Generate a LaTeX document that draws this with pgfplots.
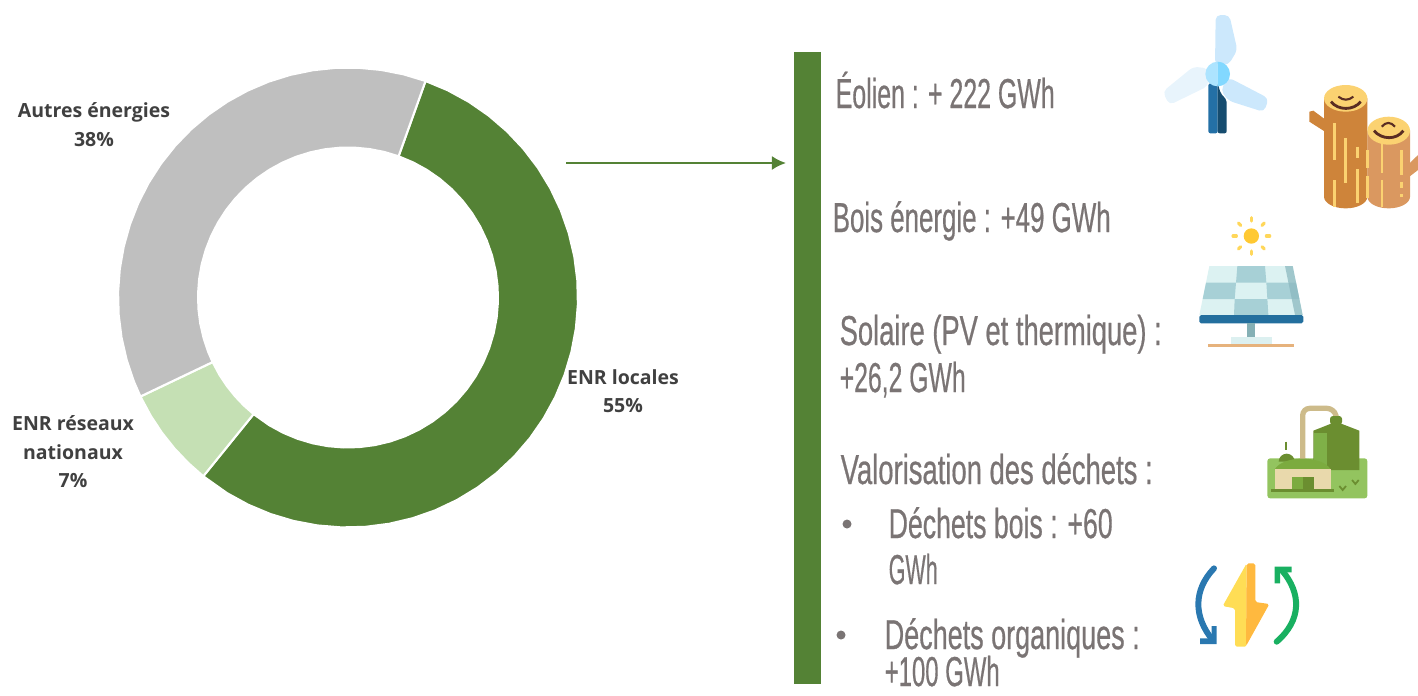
\documentclass[border=0pt]{standalone}
\usepackage{pgfplots}
\usepackage{fontspec}
\usepackage{graphicx}
\usetikzlibrary{arrows.meta,calc}
\setmainfont{Liberation Sans}[FakeBold=0.7]
\newfontfamily\rtf{Liberation Sans}[FakeBold=0.7]
\newfontfamily\lab{Open Sans}[BoldFont={Open Sans Bold}]
\pgfplotsset{compat=1.18}
\definecolor{gd}{HTML}{548235}
\definecolor{gl}{HTML}{C5E0B4}
\definecolor{gy}{HTML}{BFBFBF}
\definecolor{tx}{HTML}{7A7474}
\definecolor{lb}{HTML}{404040}
\newcommand{\rt}[4]{\node[anchor=base west,inner sep=0pt,text=tx] at (#1,#2) {\rtf\fontsize{11.9}{14}\selectfont\resizebox{#3mm}{\height}{#4}};}
\newcommand{\lt}[3]{\node[anchor=base,inner sep=0pt,text=lb] at (#1,#2) {\lab\bfseries\fontsize{5.55}{6.5}\selectfont #3};}
\begin{document}
\begin{tikzpicture}
\useasboundingbox (0,0) rectangle (14.18cm,-6.95cm);
\begin{axis}[at={(0,0)},anchor=north west,scale only axis,width=14.18cm,height=6.95cm,
  xmin=-348,xmax=1070,ymin=-397.5,ymax=297.5,hide axis,clip=false]
% ENR locales 55 %
\addplot[fill=gd,draw=white,line width=0.6pt,data cs=polar] coordinates {
(70.3,230)(64.3,230)(58.3,230)(52.3,230)(46.3,230)(40.3,230)(34.3,230)(28.3,230)(22.3,230)(16.3,230)(10.3,230)(4.3,230)(-1.7,230)(-7.7,230)(-13.7,230)(-19.7,230)(-25.7,230)(-31.7,230)(-37.7,230)(-43.7,230)(-49.7,230)(-55.7,230)(-61.7,230)(-67.7,230)(-73.7,230)(-79.7,230)(-85.7,230)(-91.7,230)(-97.7,230)(-103.7,230)(-109.7,230)(-115.7,230)(-121.7,230)(-129,230)
(-129,150)(-121.7,150)(-115.7,150)(-109.7,150)(-103.7,150)(-97.7,150)(-91.7,150)(-85.7,150)(-79.7,150)(-73.7,150)(-67.7,150)(-61.7,150)(-55.7,150)(-49.7,150)(-43.7,150)(-37.7,150)(-31.7,150)(-25.7,150)(-19.7,150)(-13.7,150)(-7.7,150)(-1.7,150)(4.3,150)(10.3,150)(16.3,150)(22.3,150)(28.3,150)(34.3,150)(40.3,150)(46.3,150)(52.3,150)(58.3,150)(64.3,150)(70.3,150)} -- cycle;
% ENR reseaux nationaux 7 %
\addplot[fill=gl,draw=white,line width=0.6pt,data cs=polar] coordinates {
(-129,230)(-134,230)(-139,230)(-144,230)(-149,230)(-154.5,230)
(-154.5,150)(-149,150)(-144,150)(-139,150)(-134,150)(-129,150)} -- cycle;
% Autres energies 38 %
\addplot[fill=gy,draw=white,line width=0.6pt,data cs=polar] coordinates {
(-154.5,230)(-158.6,230)(-164.3,230)(-170,230)(-175.7,230)(-181.4,230)(-187.1,230)(-192.8,230)(-198.5,230)(-204.2,230)(-209.9,230)(-215.6,230)(-221.3,230)(-227,230)(-232.7,230)(-238.4,230)(-244.1,230)(-249.8,230)(-255.5,230)(-261.2,230)(-266.9,230)(-272.6,230)(-278.3,230)(-284,230)(-289.7,230)
(-289.7,150)(-284,150)(-278.3,150)(-272.6,150)(-266.9,150)(-261.2,150)(-255.5,150)(-249.8,150)(-244.1,150)(-238.4,150)(-232.7,150)(-227,150)(-221.3,150)(-215.6,150)(-209.9,150)(-204.2,150)(-198.5,150)(-192.8,150)(-187.1,150)(-181.4,150)(-175.7,150)(-170,150)(-164.3,150)(-158.6,150)(-154.5,150)} -- cycle;
\end{axis}
\begin{scope}[x=0.1mm,y=-0.1mm]
\lt{94}{117}{Autres énergies}
\lt{94}{146}{38\%}
\lt{623}{384}{ENR locales}
\lt{623}{412}{55\%}
\lt{73}{430}{ENR réseaux}
\lt{73}{459}{nationaux}
\lt{73}{487}{7\%}
\fill[gd] (794,52) rectangle (821,684);
\draw[gd,line width=0.65pt,-{Latex[length=4pt,width=4pt]}] (566,163) -- (786,163);
\rt{835}{108}{21.9}{Éolien : + 222 GWh}
\rt{832}{232}{27.8}{Bois énergie : +49 GWh}
\rt{839}{345}{32.2}{Solaire (PV et thermique) :}
\rt{839}{392}{12.6}{+26,2 GWh}
\rt{840}{484}{31.2}{Valorisation des déchets :}
\rt{888}{538}{22.4}{Déchets bois : +60}
\rt{888}{584}{4.9}{GWh}
\rt{884}{649}{25.5}{Déchets organiques :}
\rt{884}{686}{11.5}{+100 GWh}
\fill[tx] (847,524) circle (4.5);
\fill[tx] (841,635) circle (4.5);
\end{scope}
% icons : zoom-1 coordinates
\begin{scope}[shift={(115mm,0mm)},x=0.033333mm,y=-0.033333mm]
% turbine
\fill[rounded corners=1.4pt,fill={rgb,255:red,232;green,244;blue,252}] (175,205)--(130,200)--(38,275)--(58,315)--(175,258)--cycle;
\fill[rounded corners=1.4pt,fill={rgb,255:red,204;green,232;blue,252}] (195,195)--(197,45)--(238,45)--(262,150)--(235,195)--cycle;
\fill[rounded corners=1.4pt,fill={rgb,255:red,204;green,232;blue,252}] (235,232)--(356,295)--(342,336)--(235,302)--(212,270)--cycle;
\fill[rounded corners=0.6pt,fill={rgb,255:red,36;green,112;blue,166}] (175,250)--(203,250)--(203,400)--(175,400)--cycle;
\fill[rounded corners=0.6pt,fill={rgb,255:red,22;green,76;blue,111}] (203,250)--(212,280)--(230,300)--(230,400)--(203,400)--cycle;
\fill[fill={rgb,255:red,173;green,228;blue,255}] (203,185) arc (270:90:37) -- cycle;
\fill[fill={rgb,255:red,130;green,216;blue,255}] (203,185) arc (-90:90:37) -- cycle;
% logs
\fill[fill={rgb,255:red,206;green,132;blue,58}] (478,335)--(490,332)--(525,358)--(525,395)--(478,365)--cycle;
\fill[fill={rgb,255:red,218;green,152;blue,96}] (804,465)--(804,510)--(778,530)--(778,490)--cycle;
\fill[fill={rgb,255:red,218;green,152;blue,96}] (652,392)--(652,590) arc (180:0:64 and 35)--(780,392)--cycle;
\fill[fill={rgb,255:red,206;green,132;blue,58}] (522,295)--(522,590) arc (180:0:65 and 35)--(652,295)--cycle;
\fill[fill={rgb,255:red,251;green,210;blue,113}] (587,295) ellipse (65 and 40);
\fill[fill={rgb,255:red,251;green,210;blue,113}] (716,392) ellipse (64 and 42);
\draw[line width=0.8pt,draw={rgb,255:red,90;green,45;blue,35}] (543,305) .. controls (565,332) and (610,332) .. (632,305);
\draw[line width=0.6pt,draw={rgb,255:red,90;green,45;blue,35}] (565,290) .. controls (580,302) and (595,302) .. (610,290);
\draw[line width=0.8pt,draw={rgb,255:red,90;green,45;blue,35}] (672,392) .. controls (695,420) and (740,420) .. (760,392);
\draw[line width=0.6pt,draw={rgb,255:red,90;green,45;blue,35}] (695,380) .. controls (708,365) and (722,365) .. (735,380);
\foreach \x/\a/\b in {553/370/480,553/540/620,587/415/550,622/440/475,622/508/610,652/450/505,652/528/595,696/430/520,696/540/622,755/450/525,755/545/565,755/582/590}
  \draw[line width=0.75pt,draw={rgb,255:red,251;green,210;blue,113}] (\x,\a)--(\x,\b);
% solar
\fill[fill={rgb,255:red,255;green,201;blue,51}] (304,708) circle (23);
\foreach \a in {0,45,...,315}
  \draw[line width=0.9pt,line cap=round,draw={rgb,255:red,255;green,215;blue,90}] ($(304,708)+(\a:45)$)--($(304,708)+(\a:55)$);
\fill[fill={rgb,255:red,220;green,242;blue,242}] (178,798)--(428,798)--(458,945)--(148,945)--cycle;
\fill[fill={rgb,255:red,167;green,208;blue,214}] (262,798)--(345,798)--(349,848)--(258,848)--cycle;
\fill[fill={rgb,255:red,167;green,208;blue,214}] (168,848)--(258,848)--(254,897)--(158,897)--cycle;
\fill[fill={rgb,255:red,167;green,208;blue,214}] (349,848)--(438,848)--(448,897)--(352,897)--cycle;
\fill[fill={rgb,255:red,167;green,208;blue,214}] (254,897)--(352,897)--(355,945)--(252,945)--cycle;
\fill[fill={rgb,255:red,140;green,185;blue,192},opacity=.75] (405,798)--(428,798)--(458,945)--(435,945)--cycle;
\fill[rounded corners=0.5pt,fill={rgb,255:red,35;green,111;blue,158}] (148,945) rectangle (460,970);
\fill[fill={rgb,255:red,133;green,176;blue,181}] (292,970) rectangle (316,1012);
\fill[fill={rgb,255:red,220;green,240;blue,240}] (242,1012) rectangle (366,1032);
\fill[fill={rgb,255:red,230;green,178;blue,124}] (175,1032) rectangle (432,1042);
\end{scope}
% icons : zoom-2 coordinates
\begin{scope}[shift={(117mm,-39mm)},x=0.033333mm,y=-0.033333mm]
\fill[rounded corners=0.8pt,fill={rgb,255:red,147;green,196;blue,95}] (292,205) rectangle (592,325);
\draw[line width=1.5pt,draw={rgb,255:red,205;green,187;blue,138},rounded corners=2pt] (398,210)--(398,55)--(492,55)--(500,85);
\fill[rounded corners=0.8pt,fill={rgb,255:red,107;green,142;blue,48}] (480,78) rectangle (516,104);
\fill[fill={rgb,255:red,107;green,142;blue,48}] (430,122)--(498,95)--(568,122)--(568,240)--(430,240)--cycle;
\fill[fill={rgb,255:red,127;green,176;blue,72}] (432,128) rectangle (470,240);
\fill[fill={rgb,255:red,107;green,142;blue,48}] (326,215) arc (180:360:24) -- cycle;
\draw[line width=0.6pt,draw={rgb,255:red,107;green,142;blue,48}] (349,155)--(349,180);
\fill[fill={rgb,255:red,124;green,171;blue,63}] (314,238) .. controls (340,195) and (455,195) .. (482,238) -- cycle;
\fill[fill={rgb,255:red,233;green,217;blue,172}] (314,238) rectangle (482,298);
\fill[fill={rgb,255:red,124;green,171;blue,63}] (365,260) rectangle (400,298);
\fill[fill={rgb,255:red,107;green,142;blue,48}] (400,260) rectangle (432,298);
\fill[fill={rgb,255:red,107;green,142;blue,48}] (303,296) rectangle (492,306);
\draw[line width=0.5pt,draw={rgb,255:red,107;green,142;blue,48}] (508,288)--(518,300)--(528,288) (546,270)--(556,282)--(566,270);
% refresh
\draw[line width=1.7pt,line cap=round,draw={rgb,255:red,42;green,120;blue,176}] (132,535) .. controls (70,600) and (70,680) .. (128,750);
\fill[fill={rgb,255:red,42;green,120;blue,176}] (125,708)--(140,708)--(140,762)--(90,762)--(90,745)--(125,745)--cycle;
\draw[line width=1.7pt,line cap=round,draw={rgb,255:red,25;green,176;blue,97}] (320,755) .. controls (395,690) and (395,610) .. (335,540);
\fill[fill={rgb,255:red,25;green,176;blue,97}] (314,530)--(365,530)--(365,547)--(330,547)--(330,580)--(314,580)--cycle;
\fill[rounded corners=0.5pt,fill={rgb,255:red,255;green,221;blue,85}] (230,520)--(158,648)--(195,655)--(195,770)--(230,770)--cycle;
\fill[rounded corners=0.5pt,fill={rgb,255:red,255;green,185;blue,63}] (230,520)--(256,520)--(256,636)--(298,642)--(228,768)--cycle;
\end{scope}
\end{tikzpicture}
\end{document}
